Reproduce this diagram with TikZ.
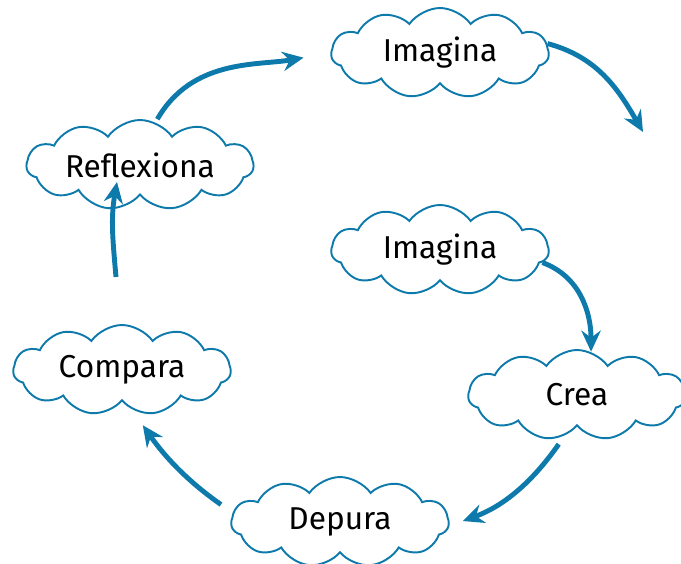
\documentclass[tikz,border=0pt]{standalone}
\usepackage{fontspec}
\setmainfont{Fira Sans}
\usetikzlibrary{shapes.symbols,arrows.meta}
\definecolor{azul}{RGB}{14,122,172}

\begin{document}
\begin{tikzpicture}[x=0.02cm,y=0.02cm]
\tikzstyle{nube}=[cloud,cloud puffs=11,cloud puff arc=110,cloud ignores aspect,draw=azul,line width=1.1pt,fill=white,minimum width=4.35cm,minimum height=1.8cm,font=\fontsize{18}{20}\selectfont,text=black]
\tikzstyle{flecha}=[draw=azul,line width=2.8pt,-{Stealth[length=12pt,width=11pt,inset=4pt]}]
\useasboundingbox (0,0) rectangle (681,-564);

\node[nube](imagA) at (440,-53) {Imagina};
\node[nube](refl) at (140,-165) {Reflexiona};
\node[nube](imagB) at (440,-250) {Imagina};
\node[nube](crea) at (577,-395) {Crea};
\node[nube](comp) at (122,-370) {Compara};
\node[nube](dep) at (340,-522) {Depura};
\coordinate (sigue) at (643,-132);
\coordinate (hueco) at (116,-277);

\draw[flecha,shorten <=2pt,shorten >=0.54cm] (refl.70) to[out=60,in=190] (imagA.180);
\draw[flecha] (imagA.5) to[out=-15,in=120] (sigue);
\draw[flecha] (imagB.-7) to[out=-20,in=90] (crea.72);
\draw[flecha,shorten <=0.2cm,shorten >=0.28cm] (crea.253) to[out=235,in=20] (dep.-2);
\draw[flecha,shorten <=0.28cm,shorten >=0.38cm] (dep.175) to[out=145,in=-55] (comp.-76);
\draw[flecha] (hueco) to[out=95,in=260] ([shift={(-23,-17)}]refl.center);
\end{tikzpicture}
\end{document}
